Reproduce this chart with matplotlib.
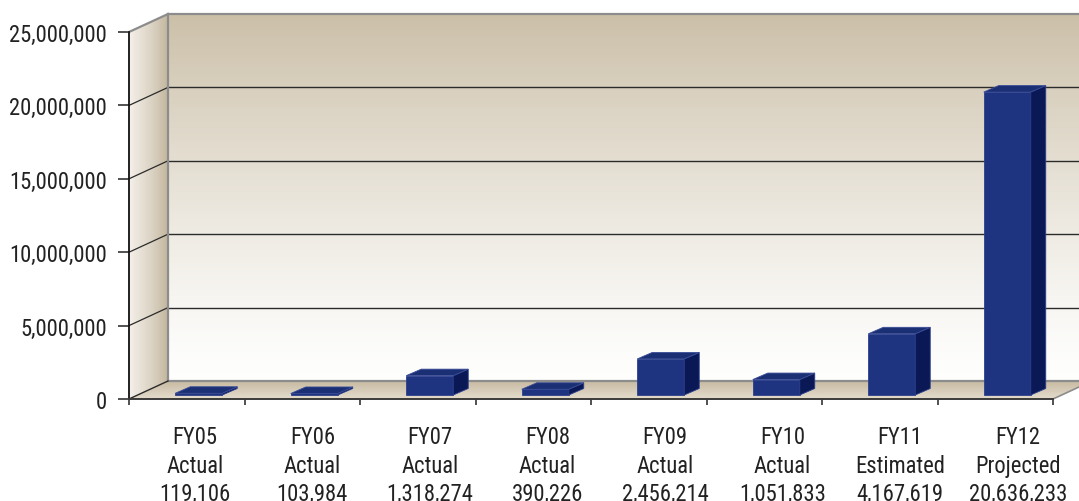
import matplotlib
matplotlib.use("Agg")
import matplotlib.pyplot as plt
import numpy as np
from matplotlib.patches import Polygon
from matplotlib.colors import to_rgb
from matplotlib.ticker import FuncFormatter

years = ['FY05', 'FY06', 'FY07', 'FY08', 'FY09', 'FY10', 'FY11', 'FY12']
status = ['Actual', 'Actual', 'Actual', 'Actual', 'Actual', 'Actual', 'Estimated', 'Projected']
values = [119106, 103984, 1318274, 390226, 2456214, 1051833, 4167619, 20636233]
yticks = [0, 5000000, 10000000, 15000000, 20000000, 25000000]

plt.rcParams['font.family'] = ['Roboto Condensed', 'DejaVu Sans']
txt = '#222222'
fsz = 16.3

W, H = 1079, 502
fig = plt.figure(figsize=(W / 100, H / 100), dpi=100)
fig.patch.set_facecolor('white')
ax = fig.add_axes([129 / W, 102 / H, 924 / W, 367 / H])
ax.patch.set_visible(False)

n = len(values)
ymax = 25000000
xpx = 924 / n          # pixels per category
ypx = 367 / ymax       # pixels per unit
DX, DY = 39 / xpx, 18 / ypx        # wall depth
bw = 47 / xpx                      # bar front width
bdx, bdy = 15 / xpx, 6.5 / ypx     # bar depth
shift, base = 12 / xpx, 4 / ypx    # bar position inside the floor

x_l, x_r = -0.5, n - 0.5


def mix(c1, c2, t):
    a, b = np.array(to_rgb(c1)), np.array(to_rgb(c2))
    return tuple(a + (b - a) * t)


def add(pts, col, z):
    ax.add_patch(Polygon(pts, closed=True, facecolor=col, edgecolor=col, lw=0.3,
                         zorder=z, clip_on=False))


# back wall, vertical gradient
k = 120
for j in range(k):
    y0 = DY + ymax * j / k
    y1 = DY + ymax * (j + 1) / k
    add([(x_l + DX, y0), (x_r + DX, y0), (x_r + DX, y1), (x_l + DX, y1)],
        mix('#fefefd', '#cbbfa8', ((j + 0.5) / k) ** 1.3), 0)

# side wall, horizontal gradient
k = 40
for j in range(k):
    a, b = j / k, (j + 1) / k
    add([(x_l + a * DX, a * DY), (x_l + b * DX, b * DY),
         (x_l + b * DX, ymax + b * DY), (x_l + a * DX, ymax + a * DY)],
        mix('#f6f2ec', '#c3b69d', (j + 0.5) / k), 1)

# floor, gradient from front to back
k = 18
for j in range(k):
    a, b = j / k, (j + 1) / k
    add([(x_l + a * DX, a * DY), (x_r + a * DX, a * DY),
         (x_r + b * DX, b * DY), (x_l + b * DX, b * DY)],
        mix('#e4dccd', '#c8bba2', (j + 0.5) / k), 2)

# gridlines on back wall and side wall
for v in yticks[1:-1]:
    ax.plot([x_l + DX, x_r + DX], [v + DY, v + DY], color='#2b2b2b', lw=1.0, zorder=1.5, clip_on=False)
    ax.plot([x_l, x_l + DX], [v, v + DY], color='#2b2b2b', lw=0.9, zorder=1.5, clip_on=False)

# wall edges
edge = '#8c8c8c'
ax.plot([x_l + DX, x_r + DX], [ymax + DY, ymax + DY], color=edge, lw=1.6, zorder=3, clip_on=False)
ax.plot([x_l, x_l + DX], [ymax, ymax + DY], color=edge, lw=1.6, zorder=3, clip_on=False)
ax.plot([x_l + DX, x_l + DX], [DY, ymax + DY], color=edge, lw=1.6, zorder=3, clip_on=False)
ax.plot([x_l + DX, x_r + DX], [DY, DY], color=edge, lw=1.6, zorder=3, clip_on=False)
ax.plot([x_r, x_r + DX], [0, DY], color=edge, lw=1.2, zorder=3, clip_on=False)
ax.plot([x_l, x_l + DX], [0, DY], color='#2b2b2b', lw=1.0, zorder=3, clip_on=False)

# bars
front_c, side_c, top_c = '#1f3481', '#0a1956', '#1b2f74'
x = np.arange(n) + shift
ax.bar(x, values, width=bw, bottom=base, color=front_c, edgecolor='#2c3f8c',
       linewidth=0.6, zorder=5)
for xi, v in zip(x, values):
    x0, x1 = xi - bw / 2, xi + bw / 2
    top = base + v
    ax.add_patch(Polygon([(x1, base), (x1 + bdx, base + bdy), (x1 + bdx, top + bdy), (x1, top)],
                         closed=True, facecolor=side_c, edgecolor='#2c3f8c', lw=0.6, zorder=5))
    ax.add_patch(Polygon([(x0, top), (x1, top), (x1 + bdx, top + bdy), (x0 + bdx, top + bdy)],
                         closed=True, facecolor=top_c, edgecolor='#3a4c96', lw=0.6, zorder=5))

ax.set_xlim(x_l, x_r)
ax.set_ylim(0, ymax)

for s in ['top', 'right']:
    ax.spines[s].set_visible(False)
ax.spines['left'].set_color('#111111')
ax.spines['left'].set_linewidth(1.3)
ax.spines['bottom'].set_color('#3a3a3a')
ax.spines['bottom'].set_linewidth(1.4)
ax.spines['left'].set_zorder(4)
ax.spines['bottom'].set_zorder(4)

ax.set_yticks(yticks)
ax.yaxis.set_major_formatter(FuncFormatter(lambda v, p: f'{int(v):,}'))
ax.tick_params(axis='y', length=8, width=1.2, color='#333333', pad=8,
               labelsize=fsz, labelcolor=txt)

ax.set_xticks(np.arange(n + 1) - 0.5)
ax.set_xticklabels([])
ax.tick_params(axis='x', which='major', length=4.5, width=1.2, color='#333333')
lab_x = np.arange(n) * 1.018 + 8 / xpx
ax.set_xticks(lab_x, minor=True)
ax.set_xticklabels([f'{a}\n{b}\n{c:,}' for a, b, c in zip(years, status, values)], minor=True)
ax.tick_params(axis='x', which='minor', length=0, pad=19, labelsize=fsz, labelcolor=txt)
for lab in ax.get_xticklabels(minor=True):
    lab.set_linespacing(1.3)

fig.savefig('out.png', dpi=100, facecolor=fig.get_facecolor())
